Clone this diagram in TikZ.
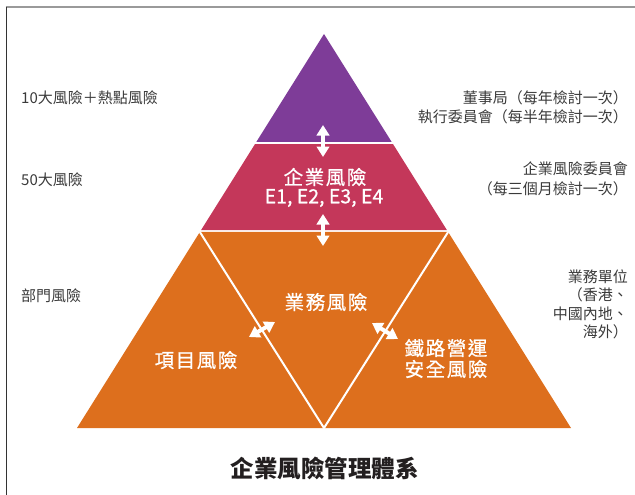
\documentclass[tikz,border=0pt]{standalone}
\usepackage{fontspec}
\setmainfont{Noto Sans CJK TC}
\newfontfamily\wfont[LetterSpace=8,FakeBold=0.7]{Noto Sans CJK TC}
\newfontfamily\efont[FakeBold=0.7]{Noto Sans CJK TC}
\usetikzlibrary{arrows.meta,calc}
\definecolor{tpurple}{HTML}{7E3C98}
\definecolor{tcrimson}{HTML}{C4375A}
\definecolor{torange}{HTML}{DD6F1D}
\definecolor{tlabel}{HTML}{3A3A3A}
\definecolor{ttitle}{HTML}{231F20}
\definecolor{tframe}{HTML}{333333}
\definecolor{tframetop}{HTML}{9A9A9A}
\begin{document}
\begin{tikzpicture}[x=1pt,y=-1pt,
  lbl/.style={inner sep=0pt, text=tlabel, font=\fontsize{15}{19}\selectfont},
  wlbl/.style={inner sep=0pt, text=white, font=\wfont\fontsize{19.5}{21}\selectfont, align=center},
  elbl/.style={inner sep=0pt, text=white, font=\efont\fontsize{19.5}{21}\selectfont},
  sep/.style={white, line width=2pt},
  dblarrow/.style={white, line width=4pt, {Triangle[width=12.5pt,length=10.5pt]}-{Triangle[width=12.5pt,length=10.5pt]}}
]
\useasboundingbox (0,0) rectangle (635,495);
% frame
\draw[tframetop, line width=1.3pt] (5.5,7) -- (635,7);
\draw[tframe, line width=1pt] (6.5,7.5) -- (6.5,495);

% pyramid geometry
\coordinate (A) at (324,34);
\coordinate (BL) at (77,428);
\coordinate (BR) at (571,428);
\coordinate (BM) at (324,428);
\coordinate (p1L) at ($(A)!0.2741!(BL)$);
\coordinate (p1R) at ($(A)!0.2741!(BR)$);
\coordinate (c1L) at ($(A)!0.2792!(BL)$);
\coordinate (c1R) at ($(A)!0.2792!(BR)$);
\coordinate (c2L) at ($(A)!0.4975!(BL)$);
\coordinate (c2R) at ($(A)!0.4975!(BR)$);
\coordinate (o1L) at ($(A)!0.5025!(BL)$);
\coordinate (o1R) at ($(A)!0.5025!(BR)$);

\fill[tpurple] (A) -- (p1L) -- (p1R) -- cycle;
\fill[tcrimson] (c1L) -- (c2L) -- (c2R) -- (c1R) -- cycle;
\fill[torange] (o1L) -- (BL) -- (BR) -- (o1R) -- cycle;
\draw[sep] (o1L) -- (BM) -- (o1R);

% arrows
\coordinate (v1a) at (323,125);
\coordinate (v1b) at (323,157);
\coordinate (v2a) at (323,214);
\coordinate (v2b) at (323,246);
\coordinate (d1a) at (249,337);
\coordinate (d1b) at (275,322);
\coordinate (d2a) at (372,323);
\coordinate (d2b) at (398,339);
\draw[dblarrow] (v1a) -- (v1b);
\draw[dblarrow] (v2a) -- (v2b);
\draw[dblarrow] (d1a) -- (d1b);
\draw[dblarrow] (d2a) -- (d2b);

% pyramid labels
\node[wlbl] (ent1) at (325,177) {企業風險};
\node[elbl] (ent2) at (324,198) {E1, E2, E3, E4};
\node[wlbl] (biz) at (326,302) {業務風險};
\node[wlbl] (proj) at (196,360) {項目風險};
\node[wlbl] (rail) at (446,358.5) {鐵路營運\\安全風險};

% left labels
\node[lbl, anchor=west] (l10) at (21,98) {10大風險＋熱點風險};
\node[lbl, anchor=west] (l50) at (21,180) {50大風險};
\node[lbl, anchor=west] (ldep) at (21,296) {部門風險};

% right labels
\node[lbl, anchor=east, align=right] (rboard) at (628,107.5) {董事局（每年檢討一次）\\執行委員會（每半年檢討一次）};
\node[lbl, anchor=east, align=right, font=\fontsize{15}{20}\selectfont] (rcomm) at (628,179) {企業風險委員會\\（每三個月檢討一次）};
\node[lbl, anchor=east, align=right, font=\fontsize{15}{18.3}\selectfont] (runit) at (628,304.5) {業務單位\\（香港、\\中國內地、\\海外）};

% title
\node[inner sep=0pt, text=ttitle, font=\fontsize{23.5}{28}\selectfont\bfseries] (title) at (324.5,468) {企業風險管理體系};
\end{tikzpicture}
\end{document}
